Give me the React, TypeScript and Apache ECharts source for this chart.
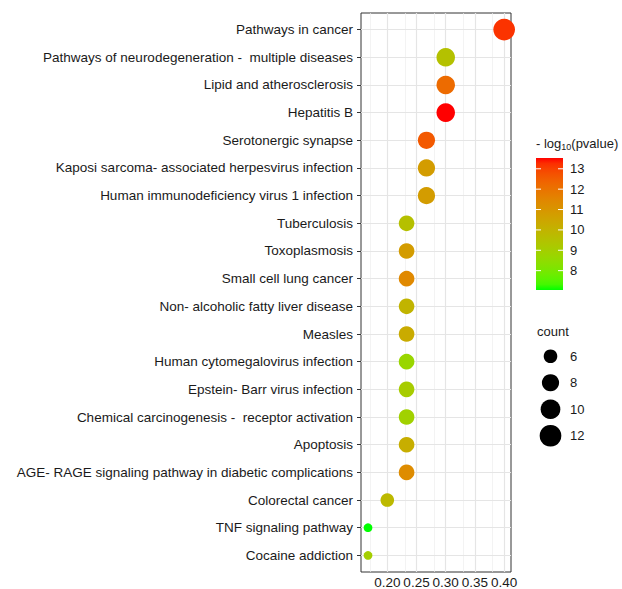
import React, { useEffect, useRef } from "react";
import * as echarts from "echarts";

// ---------- data ----------
const pathways = [
  "Pathways in cancer",
  "Pathways of neurodegeneration -  multiple diseases",
  "Lipid and atherosclerosis",
  "Hepatitis B",
  "Serotonergic synapse",
  "Kaposi sarcoma- associated herpesvirus infection",
  "Human immunodeficiency virus 1 infection",
  "Tuberculosis",
  "Toxoplasmosis",
  "Small cell lung cancer",
  "Non- alcoholic fatty liver disease",
  "Measles",
  "Human cytomegalovirus infection",
  "Epstein- Barr virus infection",
  "Chemical carcinogenesis -  receptor activation",
  "Apoptosis",
  "AGE- RAGE signaling pathway in diabetic complications",
  "Colorectal cancer",
  "TNF signaling pathway",
  "Cocaine addiction",
];
const geneRatio = [
  0.4, 0.3, 0.3, 0.3, 0.267, 0.267, 0.267, 0.233, 0.233, 0.233,
  0.233, 0.233, 0.233, 0.233, 0.233, 0.233, 0.233, 0.2, 0.167, 0.167,
];
const counts = [12, 9, 9, 9, 8, 8, 8, 7, 7, 7, 7, 7, 7, 7, 7, 7, 7, 6, 5, 5];
const negLog10P = [
  13.2, 9.5, 12.2, 13.53, 12.6, 10.8, 10.8, 9.55, 10.8, 11.4,
  10.0, 10.3, 8.7, 9.1, 8.9, 10.2, 11.3, 9.8, 7.05, 9.0,
];
const xTicks = [0.2, 0.25, 0.3, 0.35, 0.4];
const xMinorTicks = [0.175, 0.225, 0.275, 0.325, 0.375];
const xRange = [0.155, 0.4117];
const colorTicks = [8, 9, 10, 11, 12, 13];
const colorRange = [7.05, 13.53];
const countLegend = [6, 8, 10, 12];
const countRange = [5, 12];

// ---------- helpers (styling) ----------
const FONT = "Liberation Sans, Arial, Helvetica, sans-serif";
const TEXT = "#1a1a1a";

function sizeOf(c: number) {
  const s = 1 + 5 * Math.sqrt((c - countRange[0]) / (countRange[1] - countRange[0]));
  return 6.1 + 2.6 * s;
}

function toLin(c: number) {
  c /= 255;
  return c <= 0.04045 ? c / 12.92 : Math.pow((c + 0.055) / 1.055, 2.4);
}
function fromLin(c: number) {
  const v = c <= 0.0031308 ? 12.92 * c : 1.055 * Math.pow(c, 1 / 2.4) - 0.055;
  return Math.max(0, Math.min(255, Math.round(v * 255)));
}
function rgbToLab(rgb: number[]) {
  const r = toLin(rgb[0]), g = toLin(rgb[1]), b = toLin(rgb[2]);
  const X = (0.4124 * r + 0.3576 * g + 0.1805 * b) / 0.95047;
  const Y = 0.2126 * r + 0.7152 * g + 0.0722 * b;
  const Z = (0.0193 * r + 0.1192 * g + 0.9505 * b) / 1.08883;
  const f = (t: number) => (t > 0.008856 ? Math.cbrt(t) : 7.787 * t + 16 / 116);
  const fx = f(X), fy = f(Y), fz = f(Z);
  return [116 * fy - 16, 500 * (fx - fy), 200 * (fy - fz)];
}
function labToHex(lab: number[]) {
  const fy = (lab[0] + 16) / 116;
  const fx = fy + lab[1] / 500;
  const fz = fy - lab[2] / 200;
  const inv = (t: number) => (t > 0.2069 ? t * t * t : (t - 16 / 116) / 7.787);
  const X = inv(fx) * 0.95047, Y = inv(fy), Z = inv(fz) * 1.08883;
  const r = 3.2406 * X - 1.5372 * Y - 0.4986 * Z;
  const g = -0.9689 * X + 1.8758 * Y + 0.0415 * Z;
  const b = 0.0557 * X - 0.204 * Y + 1.057 * Z;
  const h = (v: number) => fromLin(Math.max(0, v)).toString(16).padStart(2, "0");
  return "#" + h(r) + h(g) + h(b);
}
const LOW = rgbToLab([0, 255, 0]);
const HIGH = rgbToLab([255, 0, 0]);
function colorAt(t: number) {
  return labToHex([0, 1, 2].map((k) => LOW[k] + (HIGH[k] - LOW[k]) * t));
}
const N_STOPS = 24;
const rampColors = Array.from({ length: N_STOPS + 1 }, (_, i) => colorAt(i / N_STOPS));

export default function App() {
  const ref = useRef<HTMLDivElement>(null);

  useEffect(() => {
    document.body.style.margin = "0";
    const chart = echarts.init(ref.current!, null, { renderer: "svg" });

    const gridLines: any[] = [];
    xMinorTicks.forEach((v) =>
      gridLines.push({ xAxis: v, lineStyle: { color: "#EEEEEE", width: 0.7, type: "solid" } })
    );
    xTicks.forEach((v) =>
      gridLines.push({ xAxis: v, lineStyle: { color: "#E5E5E5", width: 1.2, type: "solid" } })
    );
    pathways.forEach((_, i) =>
      gridLines.push({ yAxis: i, lineStyle: { color: "#E5E5E5", width: 1.2, type: "solid" } })
    );

    const gradStops = rampColors.map((c, i) => ({ offset: 1 - i / N_STOPS, color: c })).reverse();

    chart.setOption({
      animation: false,
      backgroundColor: "#ffffff",
      textStyle: { fontFamily: FONT },
      title: [
        {
          left: 536,
          top: 135,
          padding: 0,
          text: "{a|- log}{b|10}{a|(pvalue)}",
          textStyle: {
            fontWeight: "normal",
            rich: {
              a: { fontSize: 13, lineHeight: 16, color: TEXT, fontFamily: FONT, fontWeight: "normal" },
              b: { fontSize: 9, lineHeight: 10, color: TEXT, fontFamily: FONT, fontWeight: "normal", verticalAlign: "bottom" },
            },
          },
        },
        {
          left: 537,
          top: 323,
          padding: 0,
          text: "count",
          textStyle: { fontSize: 13, lineHeight: 16, color: TEXT, fontWeight: "normal", fontFamily: FONT },
        },
      ],
      grid: [
        {
          left: 361, right: 111, top: 13, bottom: 17,
          show: true, borderColor: "#333333", borderWidth: 1, backgroundColor: "transparent",
          containLabel: false, outerBoundsMode: "none",
        },
        { left: 536, top: 158, width: 27, height: 132, containLabel: false, outerBoundsMode: "none" },
        { left: 537, top: 343, width: 27, height: 106, containLabel: false, outerBoundsMode: "none" },
      ],
      xAxis: [
        {
          type: "value",
          gridIndex: 0,
          min: xRange[0],
          max: xRange[1],
          axisLine: { show: false },
          splitLine: { show: false },
          axisTick: { show: true, length: 4, customValues: xTicks, lineStyle: { color: "#333333" } },
          axisLabel: {
            customValues: xTicks,
            formatter: (v: number) => v.toFixed(2),
            fontSize: 13.5,
            lineHeight: 11,
            color: TEXT,
            margin: 5,
            fontFamily: FONT,
          },
        },
        { type: "value", gridIndex: 1, min: 0, max: 1, show: false },
        { type: "value", gridIndex: 2, min: 0, max: 1, show: false },
      ],
      yAxis: [
        {
          type: "value",
          gridIndex: 0,
          min: -0.6,
          max: pathways.length - 1 + 0.6,
          inverse: true,
          axisLine: { show: false },
          splitLine: { show: false },
          axisTick: {
            show: true,
            length: 4,
            customValues: pathways.map((_, i) => i),
            lineStyle: { color: "#333333" },
          },
          axisLabel: {
            customValues: pathways.map((_, i) => i),
            formatter: (v: number) => pathways[Math.round(v)] ?? "",
            fontSize: 13.5,
            color: TEXT,
            margin: 8,
            fontFamily: FONT,
          },
        },
        {
          type: "value",
          gridIndex: 1,
          min: colorRange[0],
          max: colorRange[1],
          position: "right",
          axisLine: { show: false },
          axisTick: { show: false },
          splitLine: { show: false },
          axisLabel: { customValues: colorTicks, fontSize: 13, color: TEXT, margin: 7, fontFamily: FONT },
        },
        {
          type: "category",
          gridIndex: 2,
          data: countLegend.map(String),
          inverse: true,
          position: "right",
          axisLine: { show: false },
          axisTick: { show: false },
          splitLine: { show: false },
          axisLabel: { fontSize: 13, color: TEXT, margin: 6, fontFamily: FONT },
        },
      ],
      visualMap: {
        show: false,
        type: "continuous",
        min: colorRange[0],
        max: colorRange[1],
        dimension: 2,
        seriesIndex: 0,
        inRange: { color: rampColors },
      },
      series: [
        {
          type: "scatter",
          xAxisIndex: 0,
          yAxisIndex: 0,
          z: 3,
          data: pathways.map((_, i) => [geneRatio[i], i, negLog10P[i], counts[i]]),
          symbol: "circle",
          symbolSize: (v: number[]) => sizeOf(v[3]),
          itemStyle: { opacity: 1 },
          markLine: {
            silent: true,
            z: 1,
            symbol: "none",
            animation: false,
            label: { show: false },
            emphasis: { disabled: true },
            data: gridLines,
          },
        },
        {
          type: "custom",
          xAxisIndex: 1,
          yAxisIndex: 1,
          data: [[0, colorRange[0]]],
          silent: true,
          renderItem: (_p: any, api: any) => {
            const p0 = api.coord([0, colorRange[1]]);
            const p1 = api.coord([1, colorRange[0]]);
            const children: any[] = [
              {
                type: "rect",
                shape: { x: p0[0], y: p0[1], width: p1[0] - p0[0], height: p1[1] - p0[1] },
                style: { fill: new echarts.graphic.LinearGradient(0, 0, 0, 1, gradStops) },
              },
            ];
            colorTicks.forEach((v) => {
              const y = api.coord([0, v])[1];
              children.push({
                type: "line",
                shape: { x1: p0[0], y1: y, x2: p0[0] + 5, y2: y },
                style: { stroke: "#ffffff", lineWidth: 1 },
              });
              children.push({
                type: "line",
                shape: { x1: p1[0] - 5, y1: y, x2: p1[0], y2: y },
                style: { stroke: "#ffffff", lineWidth: 1 },
              });
            });
            return { type: "group", children };
          },
        },
        {
          type: "scatter",
          xAxisIndex: 2,
          yAxisIndex: 2,
          silent: true,
          data: countLegend.map((c) => [0.5, String(c), c]),
          symbolSize: (v: any[]) => sizeOf(v[2]),
          itemStyle: { color: "#000000", opacity: 1 },
        },
      ],
    });

    return () => chart.dispose();
  }, []);

  return (
    <div
      ref={ref}
      style={{ position: "fixed", left: 0, top: 0, width: 622, height: 589, background: "#fff" }}
    />
  );
}
